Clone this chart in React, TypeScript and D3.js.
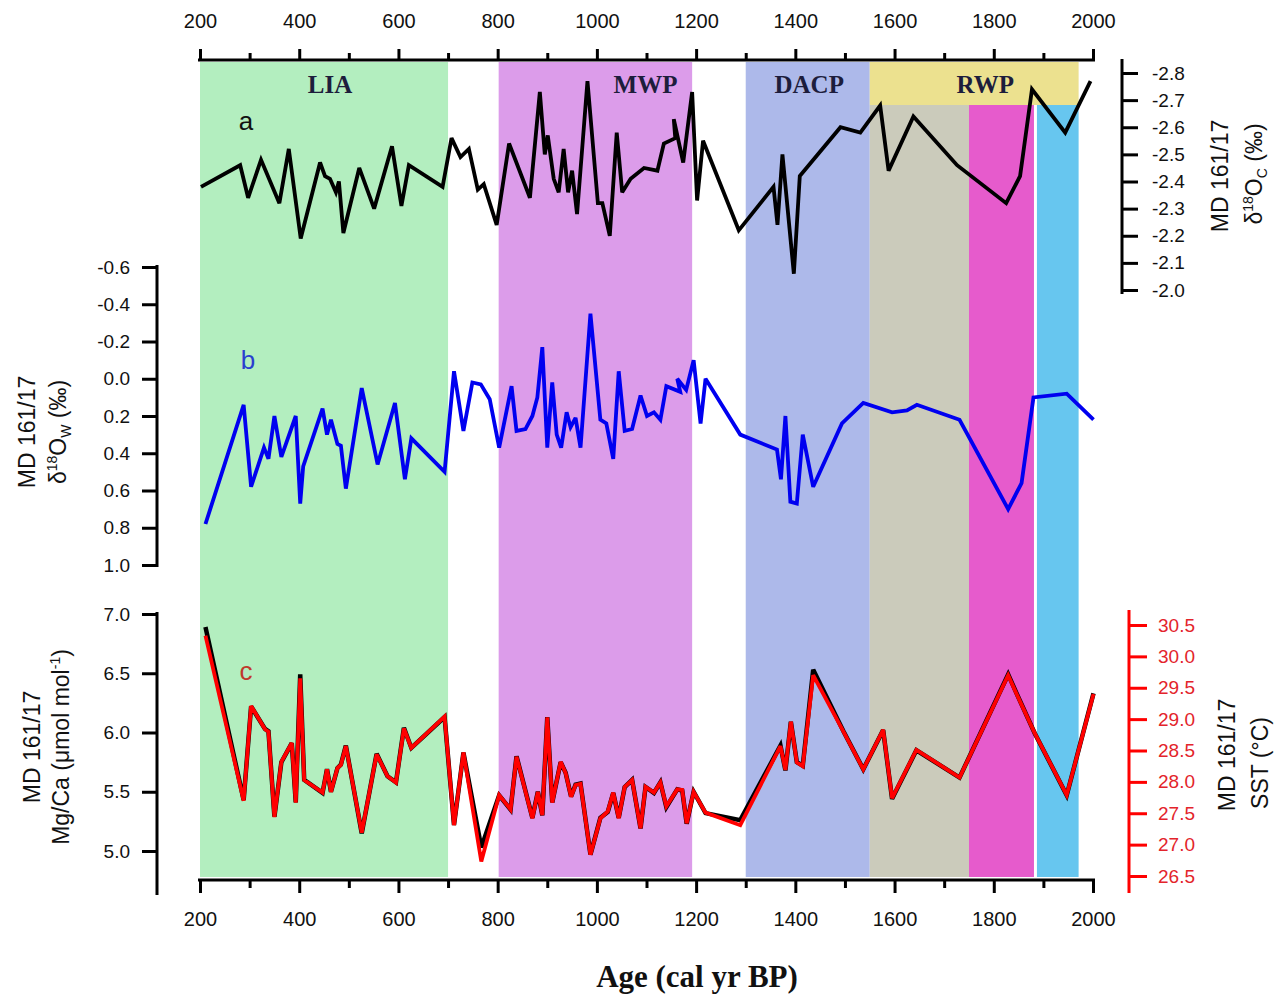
import { useEffect, useRef } from "react"
import * as d3 from "d3"

// a: MD 161/17 d18O calcite (permil)
const ageA = [202, 281, 297, 323, 360, 379, 403, 442, 452, 462, 474, 480, 489, 521, 551, 587, 606, 621, 689, 707, 725, 742, 760, 772, 798, 823, 865, 885, 895, 901, 913, 923, 933, 942, 950, 960, 981, 1002, 1011, 1026, 1040, 1051, 1068, 1095, 1122, 1135, 1158, 1155, 1174, 1192, 1202, 1214, 1286, 1356, 1364, 1374, 1397, 1409, 1491, 1531, 1571, 1588, 1638, 1726, 1825, 1853, 1877, 1944, 1995]
const d18Oc = [-2.38, -2.46, -2.34, -2.48, -2.32, -2.52, -2.19, -2.47, -2.42, -2.41, -2.36, -2.40, -2.21, -2.45, -2.30, -2.53, -2.31, -2.46, -2.38, -2.56, -2.49, -2.52, -2.37, -2.39, -2.24, -2.54, -2.34, -2.73, -2.50, -2.57, -2.41, -2.36, -2.52, -2.36, -2.44, -2.28, -2.77, -2.32, -2.32, -2.20, -2.58, -2.36, -2.41, -2.45, -2.44, -2.54, -2.56, -2.63, -2.47, -2.73, -2.33, -2.55, -2.22, -2.38, -2.24, -2.50, -2.06, -2.42, -2.60, -2.58, -2.68, -2.44, -2.64, -2.46, -2.32, -2.42, -2.74, -2.58, -2.77]

// b: d18O seawater (permil)
const ageB = [211, 288, 303, 329, 338, 350, 364, 393, 402, 408, 447, 456, 464, 477, 484, 494, 526, 558, 593, 613, 626, 693, 712, 731, 749, 766, 784, 803, 828, 838, 856, 870, 880, 890, 900, 910, 919, 928, 939, 947, 957, 967, 987, 1007, 1019, 1033, 1044, 1056, 1071, 1088, 1101, 1115, 1128, 1140, 1168, 1162, 1180, 1195, 1209, 1219, 1289, 1363, 1371, 1380, 1390, 1403, 1415, 1436, 1494, 1537, 1595, 1625, 1645, 1731, 1829, 1856, 1880, 1947, 2001]
const d18Ow = [0.78, 0.14, 0.58, 0.37, 0.43, 0.20, 0.42, 0.20, 0.67, 0.47, 0.16, 0.30, 0.22, 0.35, 0.36, 0.59, 0.05, 0.46, 0.13, 0.54, 0.32, 0.50, -0.04, 0.28, 0.02, 0.03, 0.11, 0.37, 0.04, 0.28, 0.27, 0.20, 0.10, -0.17, 0.37, 0.02, 0.30, 0.37, 0.18, 0.26, 0.21, 0.37, -0.35, 0.22, 0.24, 0.43, -0.04, 0.28, 0.27, 0.09, 0.20, 0.18, 0.22, 0.04, 0.07, 0.00, 0.06, -0.10, 0.24, 0.00, 0.30, 0.38, 0.54, 0.20, 0.66, 0.67, 0.30, 0.58, 0.24, 0.13, 0.18, 0.17, 0.14, 0.22, 0.70, 0.56, 0.10, 0.08, 0.22]

// c: Mg/Ca and SST
const ageC = [211, 288, 303, 331, 338, 350, 364, 385, 393, 402, 410, 447, 456, 464, 477, 484, 494, 526, 556, 578, 595, 611, 626, 693, 712, 731, 767, 803, 826, 838, 870, 881, 890, 900, 910, 927, 937, 948, 957, 967, 987, 1007, 1022, 1033, 1044, 1056, 1071, 1088, 1098, 1115, 1128, 1140, 1162, 1172, 1181, 1195, 1219, 1289, 1370, 1380, 1391, 1403, 1415, 1436, 1497, 1537, 1577, 1595, 1644, 1731, 1829, 1846, 1883, 1947, 2001]
const mgCa = [6.89, 5.43, 6.22, 6.03, 6.01, 5.29, 5.75, 5.91, 5.41, 6.49, 5.60, 5.49, 5.69, 5.50, 5.70, 5.73, 5.89, 5.15, 5.82, 5.63, 5.58, 6.04, 5.87, 6.13, 5.22, 5.83, 5.03, 5.47, 5.35, 5.80, 5.28, 5.50, 5.30, 6.13, 5.41, 5.75, 5.66, 5.46, 5.56, 5.57, 4.97, 5.28, 5.33, 5.49, 5.28, 5.54, 5.60, 5.19, 5.54, 5.49, 5.58, 5.37, 5.52, 5.51, 5.23, 5.50, 5.32, 5.26, 5.89, 5.68, 6.09, 5.75, 5.72, 6.53, 6.01, 5.69, 6.02, 5.44, 5.85, 5.62, 6.49, 6.33, 5.99, 5.47, 6.33]
const sst = [30.33, 27.70, 29.21, 28.84, 28.80, 27.44, 28.32, 28.62, 27.67, 29.65, 28.03, 27.83, 28.20, 27.84, 28.22, 28.27, 28.57, 27.19, 28.44, 28.09, 27.99, 28.85, 28.54, 29.04, 27.31, 28.47, 26.73, 27.79, 27.56, 28.40, 27.42, 27.84, 27.47, 29.03, 27.67, 28.32, 28.14, 27.76, 27.95, 27.97, 26.84, 27.42, 27.53, 27.83, 27.42, 27.92, 28.03, 27.26, 27.92, 27.83, 27.99, 27.61, 27.88, 27.87, 27.34, 27.84, 27.51, 27.31, 28.57, 28.19, 28.96, 28.31, 28.25, 29.70, 28.80, 28.20, 28.83, 27.74, 28.51, 28.07, 29.70, 29.40, 28.77, 27.79, 29.40]

// tick labels
const ageMajor = [200, 400, 600, 800, 1000, 1200, 1400, 1600, 1800, 2000]
const ageMinor = [300, 500, 700, 900, 1100, 1300, 1500, 1700, 1900]
const aTicks = [-2.8, -2.7, -2.6, -2.5, -2.4, -2.3, -2.2, -2.1, -2.0]
const bTicks = [-0.6, -0.4, -0.2, 0.0, 0.2, 0.4, 0.6, 0.8, 1.0]
const cTicks = [5.0, 5.5, 6.0, 6.5, 7.0]
const sstTicks = [26.5, 27.0, 27.5, 28.0, 28.5, 29.0, 29.5, 30.0, 30.5]

// climate periods (cal yr BP)
const periods = [
  { name: "LIA", start: 200, end: 700, labelAt: 462, color: "#b3eebf" },
  { name: "MWP", start: 802, end: 1192, labelAt: 1098, color: "#dc9cea" },
  { name: "DACP", start: 1300, end: 1550, labelAt: 1428, color: "#adb9ea" },
  { name: "RWP", start: 1550, end: 1971, labelAt: 1783, color: "#ece18f" },
]
const rwpParts = [
  { start: 1550, end: 1750, color: "#cbcbbb" },
  { start: 1750, end: 1881, color: "#e65bcc" },
  { start: 1887, end: 1971, color: "#67c6ef" },
]

const sans = "'Liberation Sans', Arial, sans-serif"
const serif = "'Liberation Serif', 'Times New Roman', serif"

export default function App() {
  const svgRef = useRef<SVGSVGElement>(null)

  useEffect(() => {
    if (!svgRef.current) return
    const svg = d3.select(svgRef.current)
    svg.selectAll("*").remove()

    const x = d3.scaleLinear().domain([200, 2000]).range([200, 1093])
    const yA = d3.scaleLinear().domain([-2.8, -2.0]).range([73, 290])
    const yB = d3.scaleLinear().domain([-0.6, 1.0]).range([267, 565])
    const yC = d3.scaleLinear().domain([7, 5]).range([614, 851])
    const yT = d3.scaleLinear().domain([30.5, 26.5]).range([625, 876])

    const bandTop = 62
    const bandBottom = 877
    const subTop = 105

    // period bands
    periods.forEach((p) => {
      svg
        .append("rect")
        .attr("x", x(p.start))
        .attr("y", bandTop)
        .attr("width", x(p.end) - x(p.start))
        .attr("height", (p.name === "RWP" ? subTop : bandBottom) - bandTop)
        .attr("fill", p.color)
    })
    rwpParts.forEach((p) => {
      svg
        .append("rect")
        .attr("x", x(p.start))
        .attr("y", subTop)
        .attr("width", x(p.end) - x(p.start))
        .attr("height", bandBottom - subTop)
        .attr("fill", p.color)
    })
    periods.forEach((p) => {
      svg
        .append("text")
        .attr("x", x(p.labelAt))
        .attr("y", 93)
        .attr("text-anchor", "middle")
        .attr("font-family", serif)
        .attr("font-weight", "bold")
        .attr("font-size", 25)
        .attr("fill", "#1d1d3c")
        .text(p.name)
    })

    // series
    const drawLine = (ages: number[], vals: number[], y: any, color: string, w: number) => {
      const line = d3
        .line<number>()
        .x((_, i) => x(ages[i]))
        .y((d) => y(d))
      svg
        .append("path")
        .datum(vals)
        .attr("d", line)
        .attr("fill", "none")
        .attr("stroke", color)
        .attr("stroke-width", w)
        .attr("stroke-linejoin", "miter")
        .attr("stroke-miterlimit", 3)
    }
    drawLine(ageA, d18Oc, yA, "#000", 3.8)
    drawLine(ageB, d18Ow, yB, "#0000f0", 3.8)
    drawLine(ageC, mgCa, yC, "#000", 4.5)
    drawLine(ageC, sst, yT, "#ff0000", 3.8)

    // series letters
    const letter = (t: string, lx: number, ly: number, color: string) =>
      svg
        .append("text")
        .attr("x", lx)
        .attr("y", ly)
        .attr("text-anchor", "middle")
        .attr("font-family", sans)
        .attr("font-size", 26)
        .attr("fill", color)
        .text(t)
    letter("a", 246, 130, "#111")
    letter("b", 248, 369, "#2a3fcf")
    letter("c", 246, 680, "#c0392b")

    const styleAxis = (g: any, color: string, size: number) => {
      g.select(".domain").remove()
      g.attr("font-family", sans).attr("font-size", size)
      g.selectAll(".tick line").attr("stroke", color).attr("stroke-width", 3)
      g.selectAll(".tick text").attr("fill", color === "#000" ? "#111" : "#e3242b")
    }

    // top age axis
    svg.append("line").attr("x1", 198).attr("x2", 1095).attr("y1", 60).attr("y2", 60).attr("stroke", "#000").attr("stroke-width", 3)
    svg
      .append("g")
      .attr("transform", "translate(0,60)")
      .call(d3.axisTop(x).tickValues(ageMinor).tickSize(7).tickFormat(() => ""))
      .call((g) => styleAxis(g, "#000", 20))
    svg
      .append("g")
      .attr("transform", "translate(0,60)")
      .call(d3.axisTop(x).tickValues(ageMajor).tickSize(11).tickPadding(21).tickFormat((d) => String(d)))
      .call((g) => styleAxis(g, "#000", 20))

    // bottom age axis
    svg.append("line").attr("x1", 198).attr("x2", 1095).attr("y1", 880).attr("y2", 880).attr("stroke", "#000").attr("stroke-width", 3)
    svg
      .append("g")
      .attr("transform", "translate(0,880)")
      .call(d3.axisBottom(x).tickValues(ageMinor).tickSize(8).tickFormat(() => ""))
      .call((g) => styleAxis(g, "#000", 20))
    svg
      .append("g")
      .attr("transform", "translate(0,880)")
      .call(d3.axisBottom(x).tickValues(ageMajor).tickSize(13).tickPadding(19).tickFormat((d) => String(d)))
      .call((g) => styleAxis(g, "#000", 20))

    // right axis a
    svg.append("line").attr("x1", 1122).attr("x2", 1122).attr("y1", 59).attr("y2", 294).attr("stroke", "#000").attr("stroke-width", 3)
    svg
      .append("g")
      .attr("transform", "translate(1122,0)")
      .call(d3.axisRight(yA).tickValues(aTicks).tickSize(16).tickPadding(14).tickFormat((d) => (+d).toFixed(1)))
      .call((g) => styleAxis(g, "#000", 19))

    // left axis b
    svg.append("line").attr("x1", 157).attr("x2", 157).attr("y1", 265).attr("y2", 567).attr("stroke", "#000").attr("stroke-width", 3)
    svg
      .append("g")
      .attr("transform", "translate(157,0)")
      .call(d3.axisLeft(yB).tickValues(bTicks).tickSize(15).tickPadding(12).tickFormat((d) => (+d).toFixed(1)))
      .call((g) => styleAxis(g, "#000", 19))

    // left axis c
    svg.append("line").attr("x1", 157).attr("x2", 157).attr("y1", 612).attr("y2", 895).attr("stroke", "#000").attr("stroke-width", 3)
    svg
      .append("g")
      .attr("transform", "translate(157,0)")
      .call(d3.axisLeft(yC).tickValues(cTicks).tickSize(15).tickPadding(12).tickFormat((d) => (+d).toFixed(1)))
      .call((g) => styleAxis(g, "#000", 19))

    // right axis SST
    svg.append("line").attr("x1", 1129).attr("x2", 1129).attr("y1", 610).attr("y2", 893).attr("stroke", "#f00").attr("stroke-width", 3)
    svg
      .append("g")
      .attr("transform", "translate(1129,0)")
      .call(d3.axisRight(yT).tickValues(sstTicks).tickSize(18).tickPadding(11).tickFormat((d) => (+d).toFixed(1)))
      .call((g) => styleAxis(g, "#f00", 19))

    // rotated axis titles
    type Part = { t: string; dy?: number; small?: boolean }
    const vtitle = (tx: number, ty: number, parts: Part[]) => {
      const t = svg
        .append("text")
        .attr("transform", `translate(${tx},${ty}) rotate(-90)`)
        .attr("text-anchor", "middle")
        .attr("font-family", sans)
        .attr("font-size", 23)
        .attr("fill", "#111")
      parts.forEach((p) => {
        t.append("tspan")
          .attr("dy", p.dy || 0)
          .attr("font-size", p.small ? 14 : 23)
          .text(p.t)
      })
    }
    vtitle(1228, 176, [{ t: "MD 161/17" }])
    vtitle(1262, 174, [
      { t: "δ" },
      { t: "18", dy: -9, small: true },
      { t: "O", dy: 9 },
      { t: "C", dy: 5, small: true },
      { t: " (‰)", dy: -5 },
    ])
    vtitle(35, 432, [{ t: "MD 161/17" }])
    vtitle(66, 432, [
      { t: "δ" },
      { t: "18", dy: -9, small: true },
      { t: "O", dy: 9 },
      { t: "W", dy: 5, small: true },
      { t: " (‰)", dy: -5 },
    ])
    vtitle(40, 747, [{ t: "MD 161/17" }])
    vtitle(69, 747, [
      { t: "Mg/Ca (μmol mol" },
      { t: "-1", dy: -9, small: true },
      { t: ")", dy: 9 },
    ])
    vtitle(1235, 755, [{ t: "MD 161/17" }])
    vtitle(1268, 763, [{ t: "SST (°C)" }])

    // x title
    svg
      .append("text")
      .attr("x", 697)
      .attr("y", 987)
      .attr("text-anchor", "middle")
      .attr("font-family", serif)
      .attr("font-weight", "bold")
      .attr("font-size", 31)
      .attr("fill", "#111")
      .text("Age (cal yr BP)")
  }, [])

  return (
    <svg
      ref={svgRef}
      width={1286}
      height={999}
      style={{ position: "absolute", left: 0, top: 0, background: "#fff" }}
    />
  )
}
